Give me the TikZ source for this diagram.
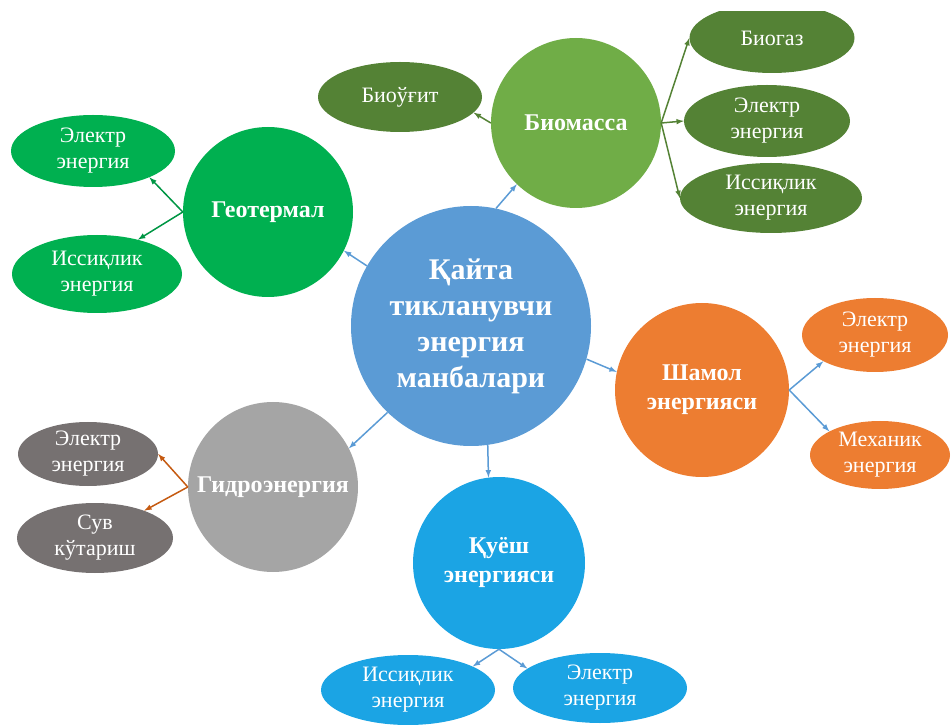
\documentclass[tikz,border=0pt]{standalone}
\usepackage{fontspec}
\setmainfont{Liberation Serif}
\usetikzlibrary{arrows,shapes.geometric}
\definecolor{mainblue}{HTML}{5B9BD5}
\definecolor{biogreen}{HTML}{70AD47}
\definecolor{biodark}{HTML}{548235}
\definecolor{geogreen}{HTML}{00B050}
\definecolor{windorange}{HTML}{ED7D31}
\definecolor{hydrogray}{HTML}{A5A5A5}
\definecolor{hydrodark}{HTML}{767171}
\definecolor{hydroline}{HTML}{C55A11}
\definecolor{sunblue}{HTML}{1BA4E4}

\begin{document}
\begin{tikzpicture}[x=1pt,y=1pt,>=latex]
\tikzstyle{every node}=[inner sep=0pt, text=white, align=center]
\tikzstyle{src}=[circle, minimum size=170pt, font=\bfseries\fontsize{24}{29}\selectfont]
\tikzstyle{leaf}=[ellipse, font=\fontsize{22}{26}\selectfont]
\tikzstyle{link}=[->, line width=1.5pt]
\useasboundingbox (0,0) rectangle (951,724);
\clip (0,0) rectangle (951,712);
% centre
\draw (471,398) node (c) [src,fill=mainblue,minimum size=240pt,font=\bfseries\fontsize{30}{36}\selectfont] {Қайта\\тикланувчи\\энергия\\манбалари};
% sources
\draw (576,601) node (bio) [src,fill=biogreen] {Биомасса};
\draw (268,512) node (geo) [src,fill=geogreen] {Геотермал};
\draw (702,334) node (wind) [src,fill=windorange,minimum size=174pt] {Шамол\\энергияси};
\draw (273,237) node (hydro) [src,fill=hydrogray] {Гидроэнергия};
\draw (499,161) node (sun) [src,fill=sunblue,minimum size=172pt] {Қуёш\\энергияси};
% leaves
\draw (400,627) node (bio0) [leaf,fill=biodark,minimum width=164pt,minimum height=70pt] {Биоўғит};
\draw (772,686) node (bio1) [leaf,fill=biodark,minimum width=165pt,minimum height=70pt] {Биогаз};
\draw (767,603) node (bio2) [leaf,fill=biodark,minimum width=166pt,minimum height=72pt] {Электр\\энергия};
\draw (771,526) node (bio3) [leaf,fill=biodark,minimum width=182pt,minimum height=70pt] {Иссиқлик\\энергия};
\draw (93,573) node (geo1) [leaf,fill=geogreen,minimum width=164pt,minimum height=72pt] {Электр\\энергия};
\draw (97,450) node (geo2) [leaf,fill=geogreen,minimum width=170pt,minimum height=78pt] {Иссиқлик\\энергия};
\draw (875,389) node (wind1) [leaf,fill=windorange,minimum width=146pt,minimum height=74pt] {Электр\\энергия};
\draw (880,269) node (wind2) [leaf,fill=windorange,minimum width=140pt,minimum height=68pt] {Механик\\энергия};
\draw (88,270) node (hydro1) [leaf,fill=hydrodark,minimum width=140pt,minimum height=64pt] {Электр\\энергия};
\draw (95,186) node (hydro2) [leaf,fill=hydrodark,minimum width=156pt,minimum height=70pt] {Сув\\кўтариш};
\draw (408,34) node (sun1) [leaf,fill=sunblue,minimum width=174pt,minimum height=70pt] {Иссиқлик\\энергия};
\draw (600,36) node (sun2) [leaf,fill=sunblue,minimum width=174pt,minimum height=70pt] {Электр\\энергия};
% centre to sources
\draw[link,mainblue] (c.78) -- (bio.226);
\draw[link,mainblue] (c.150) -- (geo.333);
\draw[link,mainblue] (c.344) -- (wind.168);
\draw[link,mainblue] (c.226) -- (hydro.27);
\draw[link,mainblue] (c.278) -- (sun.97);
% sources to leaves
\draw[link,biodark] (bio.west) -- (bio0.-12);
\draw[link,biodark] (bio.east) -- (bio1.west);
\draw[link,biodark] (bio.east) -- (bio2.west);
\draw[link,biodark] (bio.east) -- (bio3.west);
\draw[link,geogreen!85!black] (geo.west) -- (geo1.-25);
\draw[link,geogreen!85!black] (geo.west) -- (geo2.40);
\draw[link,mainblue] (wind.east) -- (wind1.207);
\draw[link,mainblue] (wind.east) -- (wind2.155);
\draw[link,hydroline] (hydro.west) -- (hydro1.east);
\draw[link,hydroline] (hydro.west) -- (hydro2.29);
\draw[link,mainblue] (sun.south) -- (sun1.20);
\draw[link,mainblue] (sun.south) -- (sun2.165);
\end{tikzpicture}
\end{document}
